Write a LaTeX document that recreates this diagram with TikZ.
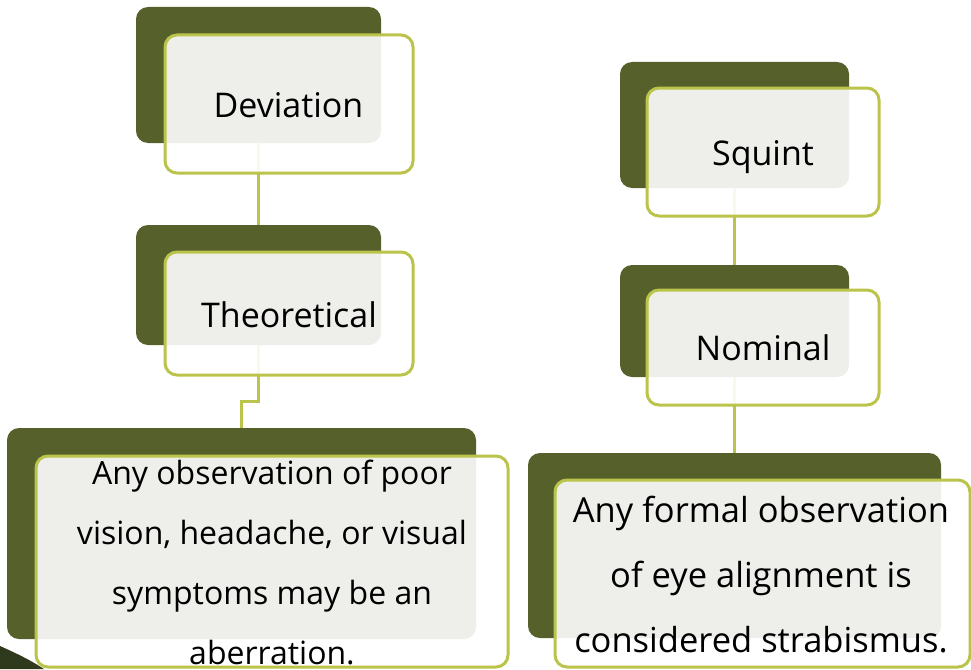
\documentclass[tikz,border=0pt]{standalone}
\usepackage{fontspec}
\setmainfont{Open Sans}
\definecolor{darkolive}{HTML}{55602B}
\definecolor{lightolive}{HTML}{BBC44A}
\definecolor{deepgreen}{HTML}{2E3A1B}
\tikzset{
  darkbox/.style={rectangle, rounded corners=12pt, fill=darkolive, draw=none, inner sep=0pt},
  lightbox/.style={rectangle, rounded corners=12pt, fill=white, fill opacity=0.9, text opacity=1, draw=lightolive, line width=3pt, inner sep=0pt},
  link/.style={draw=lightolive, line width=3pt},
  lbl/.style={align=center, inner sep=0pt, anchor=base, font=\fontsize{34}{61}\selectfont},
  lblsmall/.style={align=center, inner sep=0pt, anchor=base, font=\fontsize{32}{60}\selectfont},
  lblbig/.style={align=center, inner sep=0pt, anchor=base, font=\fontsize{34.5}{65}\selectfont}
}
\begin{document}
\begin{tikzpicture}[x=1pt,y=-1pt]
\useasboundingbox (0,0) rectangle (971,669);
\fill[deepgreen] (0,646) .. controls (18,654) and (32,661) .. (44,669) -- (0,669) -- cycle;
% dark boxes
\node[darkbox, minimum width=245pt, minimum height=136pt] (dDev) at (258.5,75) {};
\node[darkbox, minimum width=245pt, minimum height=120pt] (dThe) at (258.5,285) {};
\node[darkbox, minimum width=469pt, minimum height=211pt] (dAny) at (241.5,533.5) {};
\node[darkbox, minimum width=229pt, minimum height=126pt] (dSq) at (734.5,125) {};
\node[darkbox, minimum width=229pt, minimum height=112pt] (dNom) at (734.5,321) {};
\node[darkbox, minimum width=413pt, minimum height=185pt] (dFor) at (734.5,545.5) {};
% connectors
\coordinate (j1) at (258.5,401);
\coordinate (j2) at (241.5,401);
\draw[link] (dDev.south) -- (dThe.north);
\draw[link] (dThe.south) -- (j1) -- (j2) -- (dAny.north);
\draw[link] (dSq.south) -- (dNom.north);
\draw[link] (dNom.south) -- (dFor.north);
% light boxes
\node[lightbox, minimum width=248pt, minimum height=138pt] (lDev) at (289,104) {};
\node[lightbox, minimum width=248pt, minimum height=123pt] (lThe) at (289,313.5) {};
\node[lightbox, minimum width=472pt, minimum height=211pt] (lAny) at (272,561.5) {};
\node[lightbox, minimum width=232pt, minimum height=128pt] (lSq) at (763,152) {};
\node[lightbox, minimum width=232pt, minimum height=115pt] (lNom) at (763,347.5) {};
\node[lightbox, minimum width=415pt, minimum height=187pt] (lFor) at (762.5,573.5) {};
% texts
\node[lbl] (tDev) at (288.5,117) {Deviation};
\node[lbl] (tThe) at (289,327) {Theoretical};
\node[lblsmall] (tAny) at (272,664) {Any observation of poor\\vision, headache, or visual\\symptoms may be an\\aberration.};
\node[lbl] (tSq) at (763,165) {Squint};
\node[lbl] (tNom) at (763,360) {Nominal};
\node[lblbig] (tFor) at (761,652) {Any formal observation\\of eye alignment is\\considered strabismus.};
\end{tikzpicture}
\end{document}
